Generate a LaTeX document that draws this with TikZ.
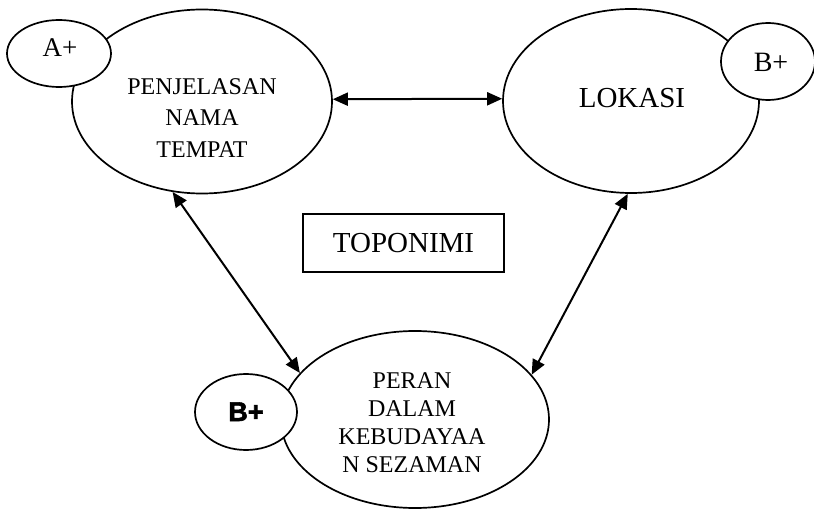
\documentclass[tikz,border=0pt]{standalone}
\usepackage{fontspec}
\setmainfont{Liberation Serif}
\newfontfamily\heavysans{Liberation Sans}
\usetikzlibrary{arrows.meta,shapes.geometric}
\begin{document}
\begin{tikzpicture}[x=1pt,y=-1pt,
  oval/.style={draw,ellipse,line width=1.7pt,inner sep=0pt,fill=white},
  dbl/.style={line width=2pt,{Triangle[length=15pt,width=13pt]}-{Triangle[length=15pt,width=13pt]}},
  lbl/.style={inner sep=0pt,anchor=base}]
\clip (0,0) rectangle (814,513);
% big ellipses
\node[oval,minimum width=260pt,minimum height=184pt] (pen) at (202,101.5) {};
\node[oval,minimum width=256pt,minimum height=184pt] (lok) at (631,101) {};
\node[oval,minimum width=268pt,minimum height=177pt] (per) at (415,419.5) {};
% box
\node[draw,line width=1.5pt,minimum width=201pt,minimum height=58pt,inner sep=0pt,
      font=\fontsize{29}{29}\selectfont] (topo) at (403.5,243) {TOPONIMI};
% connectors
\draw[dbl] (pen.1) -- (lok.179);
\draw[dbl] (pen.-108) -- (per.158);
\draw[dbl] (lok.-92) -- (per.21);
% small ellipses
\node[oval,minimum width=104pt,minimum height=67pt] (ap) at (59,53.5) {};
\node[oval,minimum width=94pt,minimum height=77pt] (bpa) at (768,61.5) {};
\node[oval,minimum width=102pt,minimum height=76pt] (bpb) at (246,412) {};
% texts
\node[lbl,font=\fontsize{24}{31.5}\selectfont,align=center,anchor=north] (pent) at (202,78) {PENJELASAN\\NAMA\\TEMPAT};
\node[lbl,font=\fontsize{29}{29}\selectfont] (lokt) at (632,108) {LOKASI};
\node[lbl,font=\fontsize{24}{28}\selectfont,align=center,anchor=north] (pert) at (412,372) {PERAN\\DALAM\\KEBUDAYAA\\N SEZAMAN};
\node[lbl,font=\fontsize{27}{27}\selectfont] (apt) at (60,57) {A+};
\node[lbl,font=\fontsize{28}{28}\selectfont] (bpat) at (771,72) {B+};
\node[lbl,font=\heavysans\bfseries\fontsize{27}{27}\selectfont\addfontfeature{FakeBold=2}] (bpbt) at (246,421) {B+};
\end{tikzpicture}
\end{document}
